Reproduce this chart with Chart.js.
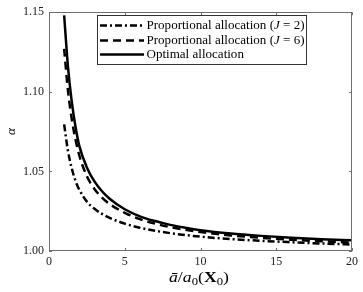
<!DOCTYPE html>
<html><head><meta charset="utf-8">
<script src="https://cdn.jsdelivr.net/npm/chart.js@4.4.0/dist/chart.umd.min.js"></script>
<style>html,body{margin:0;padding:0;background:#fff}</style>
</head><body>
<canvas id="c" width="363" height="292"></canvas>
<script>
// ---- data ----
const xs       = [1, 1.25, 1.5, 1.75, 2, 2.5, 3, 3.5, 4, 5, 6, 7, 8, 9, 10, 12, 14, 16, 18, 20];
const optimal  = [1.148, 1.116, 1.094, 1.078, 1.066, 1.0525, 1.0437, 1.0375, 1.0328, 1.0262, 1.0218, 1.0188, 1.0164, 1.0146, 1.0131, 1.0110, 1.0095, 1.0083, 1.0074, 1.0067];
const propJ6   = [1.127, 1.101, 1.083, 1.070, 1.060, 1.047, 1.039, 1.0335, 1.0295, 1.0240, 1.0200, 1.0172, 1.0150, 1.0133, 1.0119, 1.0098, 1.0083, 1.0071, 1.0061, 1.0053];
const propJ2   = [1.0795, 1.063, 1.052, 1.044, 1.0385, 1.031, 1.0265, 1.0233, 1.0208, 1.0172, 1.0146, 1.0127, 1.0112, 1.0100, 1.0090, 1.0075, 1.0064, 1.0055, 1.0047, 1.0041];
const xTicks   = [0, 5, 10, 15, 20];
const yTicks   = [1.00, 1.05, 1.10, 1.15];
const legendLabels = ['Proportional allocation (J = 2)', 'Proportional allocation (J = 6)', 'Optimal allocation'];

const FONT = '"Liberation Serif", "DejaVu Serif", serif';
const pts = arr => xs.map((x, i) => ({x: x, y: arr[i]}));

const styles = [
  {dash: [7, 3, 2, 3]},
  {dash: [8, 5]},
  {dash: []}
];

function drawParts(ctx, parts, x, y, k) {
  ctx.save();
  ctx.translate(x, y);
  ctx.scale(k, 1);
  let cx = 0;
  parts.forEach(p => { ctx.font = p.f; ctx.fillText(p.t, cx, p.dy || 0); cx += ctx.measureText(p.t).width; });
  ctx.restore();
}
function partsWidth(ctx, parts) {
  let w = 0;
  parts.forEach(p => { ctx.font = p.f; w += ctx.measureText(p.t).width; });
  return w;
}

const extras = {
  id: 'extras',
  afterDraw(chart) {
    const ctx = chart.ctx;
    const a = chart.chartArea;
    const sx = chart.scales.x, sy = chart.scales.y;
    ctx.save();
    // frame
    ctx.strokeStyle = '#6e6e6e';
    ctx.lineWidth = 1;
    ctx.strokeRect(Math.round(a.left) + 0.5, Math.round(a.top) + 0.5,
                   Math.round(a.right - a.left) - 1, Math.round(a.bottom - a.top) - 1);
    // inward ticks
    const tl = 3;
    ctx.beginPath();
    xTicks.forEach(v => {
      const px = Math.round(sx.getPixelForValue(v)) + 0.5;
      ctx.moveTo(px, a.bottom); ctx.lineTo(px, a.bottom - tl);
      ctx.moveTo(px, a.top); ctx.lineTo(px, a.top + tl);
    });
    yTicks.forEach(v => {
      const py = Math.round(sy.getPixelForValue(v)) + 0.5;
      ctx.moveTo(a.left, py); ctx.lineTo(a.left + tl, py);
      ctx.moveTo(a.right, py); ctx.lineTo(a.right - tl, py);
    });
    ctx.stroke();

    // legend
    const bx = 97, by = 15, bw = 209, bh = 49;
    ctx.fillStyle = '#fff';
    ctx.fillRect(bx, by, bw, bh);
    ctx.strokeStyle = '#333';
    ctx.strokeRect(bx + 0.5, by + 0.5, bw, bh);
    const rows = [25.5, 40.5, 54.5];
    const reg = '12px ' + FONT, ita = 'italic 12px ' + FONT;
    const legParts = legendLabels.map(lbl => {
      const m = lbl.match(/^(.*\()J( = \d\))$/);
      return m ? [{t: m[1], f: reg}, {t: 'J', f: ita}, {t: m[2], f: reg}] : [{t: lbl, f: reg}];
    });
    const k = 158 / partsWidth(ctx, legParts[0]);
    chart.data.datasets.forEach((ds, i) => {
      const y = rows[i];
      ctx.strokeStyle = '#000';
      ctx.lineWidth = 2.5;
      ctx.setLineDash(ds.borderDash || []);
      ctx.beginPath(); ctx.moveTo(100, y); ctx.lineTo(144, y); ctx.stroke();
      ctx.setLineDash([]);
      ctx.fillStyle = '#000';
      ctx.textBaseline = 'middle';
      ctx.textAlign = 'left';
      drawParts(ctx, legParts[i], 146.5, y, k);
    });

    // x title: ā/a0(X0)
    const parts = [
      {t: 'ā', f: 'italic 14px ' + FONT},
      {t: '/', f: '14px ' + FONT},
      {t: 'a', f: 'italic 14px ' + FONT},
      {t: '0', f: '10px ' + FONT, dy: 3},
      {t: '(', f: '14px ' + FONT},
      {t: 'X', f: 'bold 14px ' + FONT},
      {t: '0', f: '10px ' + FONT, dy: 3},
      {t: ')', f: '14px ' + FONT}
    ];
    const tw = partsWidth(ctx, parts);
    const kx = 60 / tw;
    ctx.textBaseline = 'alphabetic';
    drawParts(ctx, parts, 199 - 30, 282, kx);

    // y title: alpha
    ctx.save();
    ctx.translate(12, (a.top + a.bottom) / 2);
    ctx.rotate(-Math.PI / 2);
    ctx.font = 'italic 13px ' + FONT;
    ctx.textAlign = 'center';
    ctx.textBaseline = 'middle';
    ctx.fillText('α', 0, 0);
    ctx.restore();
    ctx.restore();
  }
};

new Chart(document.getElementById('c'), {
  type: 'line',
  data: {
    datasets: [
      {label: legendLabels[0], data: pts(propJ2), borderColor: '#000', borderWidth: 2.5, borderDash: styles[0].dash, pointRadius: 0, fill: false, cubicInterpolationMode: 'monotone'},
      {label: legendLabels[1], data: pts(propJ6), borderColor: '#000', borderWidth: 2.5, borderDash: styles[1].dash, pointRadius: 0, fill: false, cubicInterpolationMode: 'monotone'},
      {label: legendLabels[2], data: pts(optimal), borderColor: '#000', borderWidth: 2.5, borderDash: styles[2].dash, pointRadius: 0, fill: false, cubicInterpolationMode: 'monotone'}
    ]
  },
  options: {
    responsive: false,
    animation: false,
    devicePixelRatio: 1,
    layout: {padding: {top: 11, right: 11, bottom: 0, left: 0}},
    plugins: {legend: {display: false}, tooltip: {enabled: false}},
    scales: {
      x: {
        type: 'linear', min: 0, max: 20,
        grid: {display: false, drawTicks: false},
        border: {display: false},
        ticks: {color: '#222', font: {family: FONT, size: 12}, padding: 4, maxRotation: 0},
        afterBuildTicks: s => { s.ticks = xTicks.map(v => ({value: v})); },
        afterFit: s => { s.height = 41; }
      },
      y: {
        type: 'linear', min: 1.0, max: 1.15,
        grid: {display: false, drawTicks: false},
        border: {display: false},
        ticks: {color: '#222', font: {family: FONT, size: 12}, padding: 5, callback: v => Number(v).toFixed(2)},
        afterBuildTicks: s => { s.ticks = yTicks.map(v => ({value: v})); },
        afterFit: s => { s.width = 49; }
      }
    }
  },
  plugins: [extras]
});
</script>
</body></html>
